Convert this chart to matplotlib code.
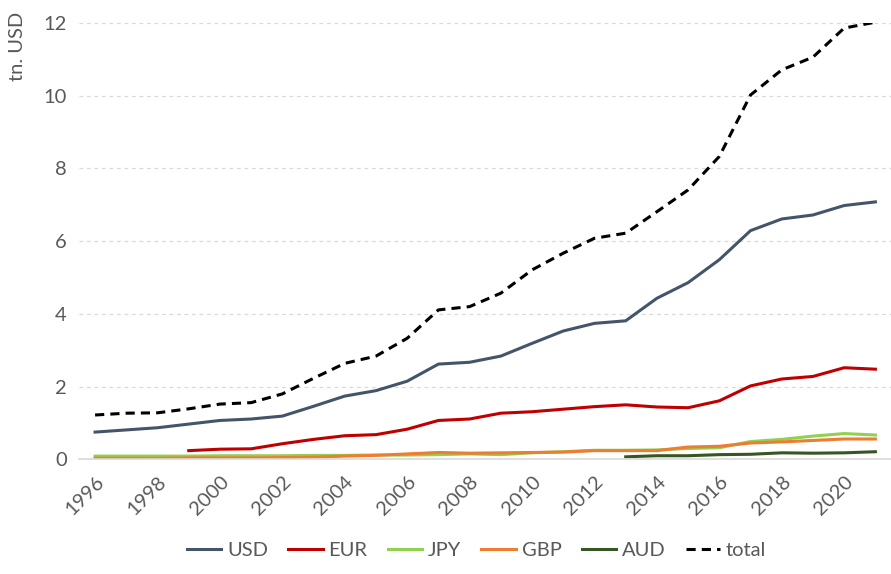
import numpy as np
import matplotlib
matplotlib.use("Agg")
import matplotlib.pyplot as plt

plt.rcParams['font.family'] = ['Lato', 'DejaVu Sans']

# ======================================= DATA ============
years = list(range(1996, 2022))
nan = np.nan

usd = [0.75, 0.81, 0.87, 0.97, 1.07, 1.11, 1.19, 1.46, 1.74, 1.89, 2.15, 2.62, 2.67,
       2.84, 3.19, 3.53, 3.74, 3.81, 4.43, 4.86, 5.49, 6.29, 6.61, 6.72, 6.98, 7.08]
eur = [nan, nan, nan, 0.24, 0.28, 0.29, 0.43, 0.55, 0.65, 0.68, 0.83, 1.07, 1.11,
       1.27, 1.31, 1.38, 1.45, 1.50, 1.44, 1.42, 1.61, 2.02, 2.21, 2.28, 2.52, 2.48]
jpy = [0.09, 0.09, 0.09, 0.09, 0.10, 0.10, 0.10, 0.11, 0.11, 0.12, 0.12, 0.13, 0.15,
       0.13, 0.18, 0.21, 0.25, 0.25, 0.26, 0.30, 0.32, 0.49, 0.55, 0.64, 0.71, 0.67]
gbp = [0.03, 0.03, 0.03, 0.04, 0.04, 0.04, 0.05, 0.06, 0.09, 0.11, 0.15, 0.19, 0.17,
       0.18, 0.19, 0.20, 0.24, 0.24, 0.24, 0.34, 0.36, 0.45, 0.48, 0.52, 0.56, 0.56]
aud = [nan] * 17 + [0.07, 0.10, 0.10, 0.13, 0.14, 0.18, 0.17, 0.18, 0.21]
total = [1.22, 1.27, 1.28, 1.39, 1.52, 1.56, 1.80, 2.23, 2.64, 2.84, 3.33, 4.11, 4.20,
         4.57, 5.21, 5.67, 6.08, 6.22, 6.81, 7.41, 8.33, 10.02, 10.71, 11.06, 11.86, 12.02]

series = [("USD", usd, "#44546A", "-"),
          ("EUR", eur, "#C00000", "-"),
          ("JPY", jpy, "#92D050", "-"),
          ("GBP", gbp, "#ED7D31", "-"),
          ("AUD", aud, "#375623", "-"),
          ("total", total, "#000000", "--")]

text_color = "#595959"
fs = 14.5

# ======================================= PLOT ============
fig = plt.figure(figsize=(8.91, 5.74), dpi=100)
ax = fig.add_axes([0.0892, 0.1997, 0.9108, 0.7603])

for name, vals, color, ls in series:
    ax.plot(years, vals, color=color, linestyle=ls, linewidth=2.2, label=name,
            dashes=(3, 2) if ls == "--" else (None, None))

ax.set_xlim(1995.5, 2021.5)
ax.set_ylim(0, 12)
ax.set_yticks(range(0, 13, 2))
ax.set_xticks(range(1996, 2021, 2))
ax.set_xticklabels([str(y) for y in range(1996, 2021, 2)], rotation=45,
                   ha="right", rotation_mode="anchor")

ax.grid(True, axis="y", color="#D9D9D9", linestyle=(0, (3, 3)), linewidth=0.9)
ax.set_axisbelow(True)
for side in ["top", "right", "left"]:
    ax.spines[side].set_visible(False)
ax.spines["bottom"].set_color("#D9D9D9")
ax.spines["bottom"].set_linewidth(1.2)
ax.tick_params(axis="both", length=0, colors=text_color, labelsize=fs)
ax.tick_params(axis="x", pad=10)
ax.tick_params(axis="y", pad=9)

fig.text(0.02, 0.92, "tn. USD", rotation=90, ha="center", va="center",
         color=text_color, fontsize=fs)

leg = fig.legend(loc="lower center", bbox_to_anchor=(0.535, -0.005), ncol=6,
                 frameon=False, fontsize=fs, handlelength=1.7, columnspacing=1.0,
                 handletextpad=0.3)
for t in leg.get_texts():
    t.set_color(text_color)

fig.savefig("out.png", dpi=100)
